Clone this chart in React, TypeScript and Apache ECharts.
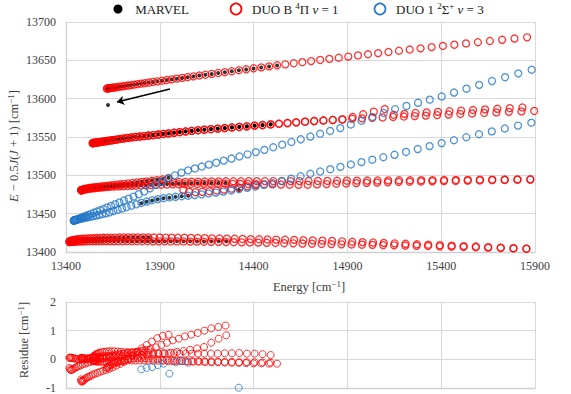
import React, { useEffect, useRef } from "react";
import * as echarts from "echarts";

// ---------- axes ----------
const X_TICKS = [13400, 13900, 14400, 14900, 15400, 15900];
const Y_TICKS = [13400, 13450, 13500, 13550, 13600, 13650, 13700];
const RES_TICKS = [-1, 0, 1, 2];

// ---------- DUO B 4Π v=1 : E − 0.5J(J+1) per level, J rising by 1 from the given first J ----------
const B_A_J0 = 2.5;
const B_A = [
  13613.2, 13613.3, 13613.5, 13613.7, 13613.9, 13614.2, 13614.5, 13614.8, 13615.2, 13615.7,
  13616.1, 13616.6, 13617.1, 13617.7, 13618.3, 13618.9, 13619.6, 13620.3, 13621.0, 13621.8,
  13622.6, 13623.4, 13624.3, 13625.2, 13626.1, 13627.1, 13628.1, 13629.1, 13630.2, 13631.2,
  13632.4, 13633.5, 13634.6, 13635.8, 13637.1, 13638.3, 13639.6, 13640.8, 13642.1, 13643.5,
  13644.8, 13646.2, 13647.6, 13649.0, 13650.5, 13651.9, 13653.4, 13654.9, 13656.4, 13657.9,
  13659.4, 13660.9, 13662.5, 13664.1, 13665.6, 13667.2, 13668.8, 13670.4, 13672.0, 13673.6,
  13675.2, 13676.8, 13678.4, 13680.0,
];
const B_BE_J0 = 0.5;
const B_BE = [
  13542.0, 13542.1, 13542.2, 13542.3, 13542.5, 13542.7, 13542.9, 13543.2, 13543.5, 13543.9,
  13544.3, 13544.7, 13545.2, 13545.7, 13546.3, 13546.9, 13547.5, 13548.2, 13548.9, 13549.5,
  13550.0, 13550.6, 13551.2, 13551.9, 13552.5, 13553.2, 13554.0, 13554.7, 13555.5, 13556.3,
  13557.2, 13558.0, 13558.8, 13559.5, 13560.2, 13560.9, 13561.6, 13562.4, 13563.1, 13563.9,
  13564.8, 13565.6, 13566.4, 13567.3, 13568.2, 13569.1, 13570.0, 13570.8, 13571.5, 13572.2,
  13572.9, 13576.0, 13579.6, 13583.0, 13586.5, 13579.0, 13580.2, 13581.3, 13582.0, 13582.8,
  13583.6, 13584.4, 13585.2, 13586.0, 13586.8, 13587.6, 13588.5,
];
const B_BF_J0 = 0.5;
const B_BF = [
  13542.0, 13542.1, 13542.2, 13542.3, 13542.5, 13542.7, 13542.9, 13543.2, 13543.5, 13543.9,
  13544.3, 13544.7, 13545.2, 13545.7, 13546.3, 13546.9, 13547.5, 13548.2, 13548.9, 13549.5,
  13550.0, 13550.6, 13551.2, 13551.9, 13552.5, 13553.2, 13554.0, 13554.7, 13555.5, 13556.3,
  13557.2, 13558.0, 13558.8, 13559.5, 13560.2, 13560.9, 13561.6, 13562.4, 13563.1, 13563.9,
  13564.8, 13565.6, 13566.4, 13567.3, 13568.2, 13569.1, 13570.0, 13570.8, 13571.5, 13572.2,
  13572.9, 13573.7, 13574.3, 13574.9, 13575.5, 13576.1, 13576.7, 13577.3, 13577.9, 13578.6,
  13579.3, 13580.0, 13580.7, 13581.4, 13582.1, 13582.8, 13583.4, 13584.0,
];
const B_CE_J0 = 0.5;
const B_CE = [
  13480.5, 13480.7, 13481.0, 13481.4, 13481.8, 13482.2, 13482.6, 13483.0, 13483.4, 13483.8,
  13484.2, 13484.6, 13485.0, 13485.4, 13485.8, 13486.3, 13486.8, 13487.3, 13487.8, 13488.3,
  13488.8, 13489.4, 13490.0, 13490.7, 13491.4, 13492.1, 13492.9, 13493.8, 13494.8, 13496.0,
  13491.0, 13491.3, 13491.5, 13491.7, 13491.8, 13491.9, 13492.0, 13492.1, 13492.2, 13492.3,
  13492.3, 13492.4, 13492.4, 13492.5, 13492.5, 13492.5, 13492.5, 13492.5, 13492.6, 13492.7,
  13492.8, 13492.9, 13493.0, 13493.1, 13493.2, 13493.3, 13493.4, 13493.5, 13493.6, 13493.7,
  13493.8, 13493.9, 13494.0, 13494.1, 13494.3, 13494.4, 13494.5, 13494.7, 13494.8,
];
const B_CF_J0 = 0.5;
const B_CF = [
  13480.5, 13480.6, 13480.8, 13481.0, 13481.3, 13481.6, 13481.9, 13482.2, 13482.5, 13482.8,
  13483.1, 13483.4, 13483.7, 13484.0, 13484.3, 13484.6, 13484.9, 13485.2, 13485.4, 13485.7,
  13485.9, 13486.1, 13486.3, 13486.5, 13486.7, 13486.9, 13487.2, 13487.5, 13487.8, 13488.1,
  13488.3, 13488.5, 13488.6, 13488.7, 13488.8, 13488.9, 13489.0, 13489.0, 13489.0, 13488.9,
  13488.8, 13488.7, 13488.6, 13488.4, 13488.2, 13488.0, 13487.8, 13487.6, 13487.8, 13488.2,
  13488.6, 13489.0, 13489.4, 13489.8, 13490.2, 13490.5, 13490.9, 13491.3, 13491.6, 13492.0,
  13492.2, 13492.5, 13492.7, 13493.0, 13493.3, 13493.7, 13494.0, 13494.3, 13494.5,
];
const B_CX_J0 = 32.5;
const B_CX = [13481.0, 13478.5, 13478.0, 13478.5, 13479.3, 13480.3, 13481.4, 13482.6, 13484.0, 13485.6, 13487.2];
const B_DE_J0 = 2.5;
const B_DE = [
  13414.0, 13414.4, 13414.8, 13415.2, 13415.6, 13416.0, 13416.3, 13416.6, 13416.9, 13417.2,
  13417.4, 13417.6, 13417.8, 13418.0, 13418.2, 13418.4, 13418.5, 13418.6, 13418.7, 13418.8,
  13418.9, 13419.0, 13419.0, 13419.0, 13419.0, 13419.0, 13419.0, 13418.9, 13418.9, 13418.8,
  13418.7, 13418.6, 13418.5, 13418.4, 13418.2, 13418.0, 13417.8, 13417.6, 13417.4, 13417.2,
  13417.0, 13416.8, 13416.6, 13416.4, 13416.2, 13416.0, 13415.8, 13415.5, 13415.2, 13414.8,
  13414.4, 13413.9, 13413.4, 13412.9, 13412.4, 13411.9, 13411.3, 13410.7, 13410.1, 13409.5,
  13408.9, 13408.3, 13407.7, 13407.1, 13406.4, 13405.7, 13405.0, 13404.3,
];
const B_DF_J0 = 2.5;
const B_DF = [
  13413.0, 13413.1, 13413.2, 13413.3, 13413.4, 13413.5, 13413.6, 13413.7, 13413.8, 13413.9,
  13413.9, 13414.0, 13414.0, 13414.0, 13414.1, 13414.1, 13414.1, 13414.1, 13414.1, 13414.1,
  13414.1, 13414.1, 13414.0, 13414.0, 13414.0, 13414.0, 13414.0, 13413.9, 13413.9, 13413.9,
  13413.8, 13413.8, 13413.7, 13413.6, 13413.5, 13413.4, 13413.3, 13413.2, 13413.0, 13412.8,
  13412.6, 13412.4, 13412.2, 13412.0, 13411.8, 13411.5, 13411.3, 13411.0, 13410.8, 13410.5,
  13410.3, 13410.0, 13409.8, 13409.5, 13409.3, 13409.0, 13408.7, 13408.4, 13408.1, 13407.8,
  13407.4, 13407.0, 13406.6, 13406.2, 13405.7, 13405.2, 13404.7, 13404.2,
];

// ---------- DUO 1 2Σ+ v=3 ----------
const S_F1_J0 = 0.5;
const S_F1 = [
  13441.0, 13441.2, 13441.4, 13441.7, 13442.2, 13442.7, 13443.4, 13444.2, 13445.1, 13446.1,
  13447.2, 13448.4, 13449.8, 13451.2, 13452.8, 13454.4, 13456.1, 13458.1, 13460.2, 13462.4,
  13464.7, 13467.1, 13469.6, 13472.3, 13475.4, 13479.0, 13483.0, 13487.4, 13491.8, 13496.5,
  13500.0, 13503.5, 13506.5, 13509.0, 13511.5, 13514.0, 13516.5, 13519.2, 13521.9, 13524.6,
  13527.4, 13530.3, 13533.2, 13536.6, 13540.0, 13543.5, 13547.0, 13550.6, 13554.2, 13557.9,
  13561.6, 13566.3, 13571.2, 13576.2, 13581.3, 13586.4, 13590.5, 13594.6, 13598.7, 13602.8,
  13608.0, 13613.0, 13618.0, 13623.0, 13628.0, 13633.0, 13637.8,
];
const S_F2_J0 = 0.5;
const S_F2 = [
  13441.0, 13441.1, 13441.3, 13441.6, 13441.9, 13442.3, 13442.7, 13443.2, 13443.7, 13444.2,
  13444.8, 13445.4, 13446.0, 13446.7, 13447.5, 13448.4, 13449.4, 13450.5, 13451.8, 13453.3,
  13455.0, 13456.8, 13458.6, 13460.4, 13462.2, 13464.0, 13465.8, 13467.5, 13469.0, 13470.2,
  13471.2, 13472.0, 13472.7, 13473.4, 13474.2, 13475.2, 13476.3, 13477.5, 13478.8, 13480.3,
  13481.9, 13483.6, 13485.5, 13487.6, 13489.8, 13492.6, 13495.6, 13498.8, 13502.1, 13505.0,
  13508.0, 13511.0, 13514.1, 13517.2, 13520.4, 13523.6, 13526.8, 13530.5, 13534.3, 13538.1,
  13542.0, 13545.8, 13549.7, 13553.6, 13557.3, 13561.1, 13564.9, 13568.7,
];

// ---------- MARVEL − DUO residues (cm-1) per observed level, J rising by 1 from the first J ----------
const RES_A_J0 = 2.5;
const RES_A = [
  -0.3, -0.28, -0.25, -0.22, -0.2, -0.18, -0.15, -0.12, -0.1, -0.08,
  -0.05, -0.03, 0, 0.02, 0.03, 0.05, 0.05, 0.04, 0.03, 0.02,
  0, -0.02, -0.03, -0.05, -0.05, -0.06, -0.07, -0.08, -0.08, -0.09,
  -0.1, -0.1, -0.11, -0.12, -0.12, -0.13, -0.14, -0.14, -0.15, -0.15,
];
const RES_BE_J0 = 0.5;
const RES_BE = [
  -0.05, -0.05, -0.06, -0.06, -0.07, -0.07, -0.08, -0.08, -0.08, -0.08,
  -0.08, -0.08, -0.07, -0.07, -0.06, -0.06, -0.05, -0.05, -0.04, -0.04,
  -0.04, -0.04, -0.04, -0.04, -0.05, -0.05, -0.05, -0.06, -0.06, -0.06,
  -0.07, -0.07, -0.07, -0.08, -0.08, -0.08, -0.09, -0.09, -0.1, -0.1,
  -0.1, -0.11, -0.12,
];
const RES_BF_J0 = 0.5;
const RES_BF = [
  0.05, 0.08, 0.1, 0.12, 0.15, 0.18, 0.2, 0.22, 0.24, 0.25,
  0.26, 0.27, 0.28, 0.28, 0.28, 0.27, 0.26, 0.25, 0.25, 0.24,
  0.24, 0.23, 0.23, 0.22, 0.22, 0.22, 0.21, 0.21, 0.21, 0.2,
  0.2, 0.2, 0.2, 0.2, 0.2, 0.2, 0.21, 0.21, 0.22, 0.2,
  0.2, 0.18, 0.15,
];
const RES_CE_J0 = 0.5;
const RES_CE = [
  -0.7, -0.75, -0.78, -0.76, -0.73, -0.7, -0.66, -0.63, -0.6, -0.57,
  -0.53, -0.5, -0.47, -0.43, -0.4, -0.37, -0.33, -0.28, -0.22, -0.16,
  -0.09, 0.02, 0.13, 0.25, 0.38, 0.5, 0.62, 0.74, 0.82, 0.86,
];
const RES_CF_J0 = 0.5;
const RES_CF = [
  0.05, 0.05, 0.04, 0.04, 0.03, 0.03, 0.03, 0.03, 0.04, 0.05,
  0.06, 0.07, 0.08, 0.09, 0.1, 0.11, 0.12, 0.14, 0.16, 0.18,
  0.2, 0.22, 0.24, 0.26, 0.29, 0.32, 0.36, 0.42, 0.5, 0.58,
  0.66, 0.72, 0.8, 0.86, 0.92, 1.0, 1.08, 1.13, 1.18,
];
const RES_DE_J0 = 2.5;
const RES_DE = [
  -0.3, -0.35, -0.38, -0.36, -0.33, -0.3, -0.27, -0.24, -0.21, -0.18,
  -0.15, -0.12, -0.09, -0.06, -0.03, 0, 0.03, 0.06, 0.09, 0.12,
  0.15, 0.18, 0.21, 0.24, 0.27, 0.3, 0.33,
];
const RES_DF_J0 = 2.5;
const RES_DF = [
  0.05, 0.06, 0.06, 0.05, 0.04, 0.03, 0.02, 0.01, 0, 0,
  0, 0.01, 0.02, 0.03, 0.04, 0.05, 0.06, 0.07, 0.08, 0.09,
  0.1, 0.11, 0.12, 0.13, 0.14, 0.15, 0.16, 0.17, 0.19, 0.21,
  0.23, 0.26, 0.29, 0.33, 0.38, 0.43, 0.58, 0.72, 0.84,
];
const RES_F2_J0 = 25.5;
const RES_F2: (number | null)[] = [
  -0.35, -0.3, -0.27, -0.2, -0.15, -0.5, -0.1, -0.05, -0.12,
  null, null, null, null, null, null, -0.99,
];

// MARVEL level that lies off its DUO branch (marked by the arrow)
const MARVEL_LONE_E = [13624];
const MARVEL_LONE_Y = [13591.7];
const ARROW_FROM = [13954, 13612.6];
const ARROW_TO = [13672, 13595.6];

// ---------- styling ----------
const FONT = "Liberation Serif";
const RED = "#FF0000";
const BLUE = "#2478C8";
const GRID = "#d9d9d9";
const AXIS = "#d0d0d0";
const TXT = "#404040";
const TXT_D = "#1a1a1a";

function duo(j0: number, ys: number[]) {
  return ys.map((y, i) => {
    const J = j0 + i;
    return [y + 0.5 * J * (J + 1), y];
  });
}

function marvel(j0: number, ys: number[], rj0: number, res: (number | null)[]) {
  const main: number[][] = [];
  const resid: number[][] = [];
  res.forEach((r, k) => {
    if (r === null) return;
    const J = rj0 + k;
    const y = ys[Math.round(J - j0)];
    const e = y + 0.5 * J * (J + 1);
    main.push([e + r, y + r]);
    resid.push([e + r, r]);
  });
  return { main, resid };
}

function ring(data: number[][], color: string, idx: number, size: number, bw: number) {
  return {
    type: "scatter",
    xAxisIndex: idx,
    yAxisIndex: idx,
    data,
    symbol: "circle",
    symbolSize: size,
    itemStyle: { color: "rgba(0,0,0,0)", borderColor: color, borderWidth: bw },
    silent: true,
    emphasis: { disabled: true },
  };
}

function dots(data: number[][]) {
  return {
    type: "scatter",
    xAxisIndex: 0,
    yAxisIndex: 0,
    data,
    symbol: "circle",
    symbolSize: 4,
    itemStyle: { color: "#000" },
    silent: true,
    emphasis: { disabled: true },
  };
}

function rich(size: number) {
  return {
    i: { fontStyle: "italic", fontFamily: FONT, fontSize: size, lineHeight: size + 2 },
    s: { fontFamily: FONT, fontSize: Math.round(size * 0.68), lineHeight: size * 0.55, verticalAlign: "top" },
  };
}

function buildOption() {
  const redRows = [
    duo(B_A_J0, B_A), duo(B_BE_J0, B_BE), duo(B_BF_J0, B_BF), duo(B_CE_J0, B_CE),
    duo(B_CF_J0, B_CF), duo(B_CX_J0, B_CX), duo(B_DE_J0, B_DE), duo(B_DF_J0, B_DF),
  ];
  const blueRows = [duo(S_F1_J0, S_F1), duo(S_F2_J0, S_F2)];
  const mRed = [
    marvel(B_A_J0, B_A, RES_A_J0, RES_A),
    marvel(B_BE_J0, B_BE, RES_BE_J0, RES_BE),
    marvel(B_BF_J0, B_BF, RES_BF_J0, RES_BF),
    marvel(B_CE_J0, B_CE, RES_CE_J0, RES_CE),
    marvel(B_CF_J0, B_CF, RES_CF_J0, RES_CF),
    marvel(B_DE_J0, B_DE, RES_DE_J0, RES_DE),
    marvel(B_DF_J0, B_DF, RES_DF_J0, RES_DF),
  ];
  const mBlue = marvel(S_F2_J0, S_F2, RES_F2_J0, RES_F2);

  const marvelMain = ([] as number[][]).concat(...mRed.map((m) => m.main), mBlue.main);
  const resRed = ([] as number[][]).concat(...mRed.map((m) => m.resid));
  const lone = MARVEL_LONE_E.map((e, i) => [e, MARVEL_LONE_Y[i]]);

  const axisCommon = {
    type: "value",
    axisLine: { show: true, onZero: false, lineStyle: { color: AXIS, width: 1.3 } },
    axisTick: { show: false },
    splitLine: { show: true, lineStyle: { color: GRID, width: 1 } },
  };
  const lbl = { fontFamily: FONT, fontSize: 12, color: TXT, formatter: (v: number) => String(v) };

  const series: any[] = [];
  series.push(dots(marvelMain));
  series.push({
    ...dots(lone),
    markLine: {
      silent: true,
      animation: false,
      symbol: ["none", "arrow"],
      symbolSize: 7,
      label: { show: false },
      lineStyle: { color: "#000", width: 1.5, type: "solid" },
      emphasis: { disabled: true },
      data: [[{ coord: ARROW_FROM }, { coord: ARROW_TO }]],
    },
  });
  redRows.forEach((r) => series.push(ring(r, RED, 0, 7, 1.3)));
  blueRows.forEach((r) => series.push(ring(r, BLUE, 0, 7, 1.3)));
  series.push(ring(resRed, RED, 1, 7, 1));
  series.push(ring(mBlue.resid, BLUE, 1, 7, 1));

  const txt = (text: string, x: number, y: number, align: string, fill: string, size: number, rot = 0) => ({
    type: "text", x, y, rotation: rot, silent: true,
    style: {
      text, rich: rich(size), fontFamily: FONT, fontSize: size, lineHeight: size + 2,
      fill, align, verticalAlign: "middle",
    },
  });

  return {
    animation: false,
    backgroundColor: "#ffffff",
    textStyle: { fontFamily: FONT },
    grid: [
      { left: 66, top: 22, width: 469, height: 230 },
      { left: 66, top: 302, width: 469, height: 86 },
    ],
    xAxis: [
      {
        ...axisCommon, gridIndex: 0,
        min: X_TICKS[0], max: X_TICKS[X_TICKS.length - 1], interval: X_TICKS[1] - X_TICKS[0],
        axisLabel: { ...lbl, margin: 8 },
      },
      {
        ...axisCommon, gridIndex: 1,
        min: X_TICKS[0], max: X_TICKS[X_TICKS.length - 1], interval: X_TICKS[1] - X_TICKS[0],
        axisLabel: { show: false },
      },
    ],
    yAxis: [
      {
        ...axisCommon, gridIndex: 0,
        min: Y_TICKS[0], max: Y_TICKS[Y_TICKS.length - 1], interval: Y_TICKS[1] - Y_TICKS[0],
        axisLabel: { ...lbl, margin: 10 },
      },
      {
        ...axisCommon, gridIndex: 1,
        min: RES_TICKS[0], max: RES_TICKS[RES_TICKS.length - 1], interval: RES_TICKS[1] - RES_TICKS[0],
        axisLabel: { ...lbl, margin: 10 },
      },
    ],
    graphic: [
      { type: "circle", shape: { cx: 118, cy: 9, r: 4.5 }, style: { fill: "#000" }, silent: true },
      txt("MARVEL", 189, 9, "right", TXT_D, 13),
      { type: "circle", shape: { cx: 236, cy: 9, r: 5.5 }, style: { fill: "none", stroke: RED, lineWidth: 1.7 }, silent: true },
      txt("DUO B {s|4}Π {i|v} = 1", 252, 9, "left", TXT_D, 13),
      { type: "circle", shape: { cx: 380, cy: 9, r: 5.5 }, style: { fill: "none", stroke: BLUE, lineWidth: 1.7 }, silent: true },
      txt("DUO 1 {s|2}Σ{s|+} {i|v} = 3", 396, 9, "left", TXT_D, 13),
      txt("{i|E} − 0.5{i|J}({i|J} + 1) [cm{s|−1}]", 14, 146, "center", TXT, 12.5, Math.PI / 2),
      txt("Residue [cm{s|−1}]", 24, 340, "center", TXT, 12.5, Math.PI / 2),
      txt("Energy [cm{s|−1}]", 309, 287, "center", TXT, 12.5),
    ],
    series,
  };
}

export default function App() {
  const ref = useRef<HTMLDivElement>(null);
  useEffect(() => {
    if (!ref.current) return;
    const chart = echarts.init(ref.current, undefined, { renderer: "svg" });
    chart.setOption(buildOption() as any);
    return () => chart.dispose();
  }, []);
  return (
    <div
      ref={ref}
      style={{ position: "absolute", left: 0, top: 0, width: 571, height: 394, background: "#fff" }}
    />
  );
}
